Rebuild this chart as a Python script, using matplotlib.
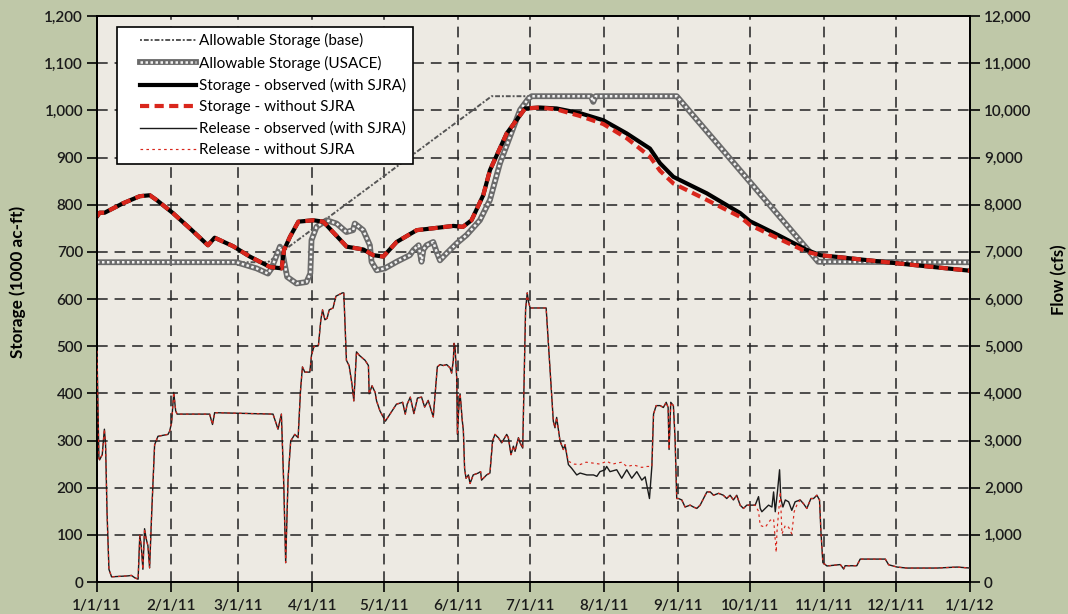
import numpy as np
import matplotlib
matplotlib.use('Agg')
import matplotlib.pyplot as plt
from matplotlib.legend_handler import HandlerLine2D, HandlerTuple

plt.rcParams['font.family'] = ['Lato', 'DejaVu Sans']

# Storage (1000 ac-ft), day offsets from 1/1/11
sto_day = [0, 1.1, 3.2, 10.9, 17.9, 22.1, 24.9, 31.8, 38.8, 46.4, 49.2, 56.9, 63.9,
           72.3, 77.2, 78.2, 80.7, 84.2, 90.4, 94.6, 104.4, 111.4, 115.5, 119.7,
           125.3, 133.7, 140.6, 149, 153, 156.6, 161.5, 164.3, 171.3, 179, 185.2,
           192.2, 202, 211.7, 221.5, 231.2, 235.4, 241, 255, 269, 273, 285, 296.8,
           302.4, 334, 365]
sto_obs = [775, 783, 783, 803, 818, 820, 810, 782, 750, 714, 730, 712, 690,
           668, 665, 704, 732, 764, 767, 764, 711, 705, 693, 690,
           721, 746, 750, 755, 753, 767, 820, 873, 951, 1004, 1006,
           1004, 994, 979, 951, 919, 888, 859, 824, 782, 765, 735, 704,
           693, 676, 660]
sto_wo = [775, 783, 783, 803, 818, 820, 810, 782, 750, 714, 730, 712, 690,
          668, 665, 704, 732, 764, 767, 764, 711, 705, 693, 690,
          721, 746, 750, 755, 753, 767, 820, 873, 951, 1004, 1006,
          1002, 988, 971, 941, 902, 872, 845, 810, 774, 757, 728, 700,
          693, 676, 660]

# Allowable storage
base_day = [0, 71.5, 165, 242.4, 301.5, 365]
base_val = [678, 678, 1030, 1030, 679, 678]

usace_day = [0, 58.3, 66.7, 71.5, 73, 76.5, 77.5, 79.5, 83.4, 87.6, 89.2, 89.7, 91.8,
             96, 100.2, 104.3, 107.1, 107.8, 111.3, 114.1, 114.8, 116.9, 120.4,
             125.3, 130.8, 132.3, 134.5, 135.7, 136.5, 137.8, 140.6, 142, 143.4,
             146.2, 150.4, 154.6, 160.1, 164.3, 168.5, 176.9, 180.4, 181.8, 206.5,
             207.5, 208.5, 242.4, 301.5, 365]
usace_val = [678, 678, 665, 654, 665, 711, 700, 647, 633, 636, 654, 725, 753,
             767, 760, 742, 746, 760, 746, 714, 679, 661, 665,
             679, 693, 704, 714, 679, 705, 714, 721, 700, 682,
             697, 718, 736, 767, 810, 888, 1001, 1025, 1030, 1030,
             1018, 1030, 1030, 679, 678]

# Release observed (cfs)
rel_day = [0, 0.3, 0.8, 1.1, 2.2, 3.1, 3.6, 4.2, 5.0, 6.1, 13.0, 14.4, 15.8, 17.2,
           17.9, 18.5, 19.2, 19.9, 20.6, 21.3, 22.0, 22.9, 24.1, 25.5, 29.7, 30.4,
           31.2, 32.1, 32.9, 33.5, 47.1, 48.3, 49.2, 73.6, 75.7, 77.1, 78.1, 78.9,
           79.9, 81.0, 82.7, 84.1, 85.1, 85.9, 86.9, 89.0, 89.7, 90.7, 92.6, 93.6,
           94.3, 95.3, 96.2, 97.1, 98.7, 99.9, 102.6, 103.2, 104.3, 105.4, 106.6,
           107.4, 108.5, 109.6, 112.1, 113.5, 113.8, 115.0, 116.3, 116.9, 118.3,
           120.6, 122.5, 125.2, 127.8, 128.9, 129.7, 131, 132.5, 134, 135.7, 137,
           138.5, 140.6, 142.3, 143.4, 144.8, 146.2, 147.6, 148.3, 149.0, 149.3,
           149.7, 150.4, 150.7, 151.2, 151.8, 152.2, 152.6, 153.2, 153.7, 154.3,
           155.3, 156.0, 157.3, 159.4, 160.4, 160.8, 162.9, 164.3, 165.4, 166.4,
           167.8, 169.2, 171.3, 172.0, 173.1, 174.1, 174.8, 176.2, 176.9, 178.0,
           178.5, 179.2, 179.9, 180.4, 181.1, 185.2, 187.8, 188.3, 189.4, 190.8,
           191.5, 192.2, 193.6, 195.0, 195.7, 197.1, 198.5, 200.6, 202.0, 204.8,
           207.6, 209.0, 210.3, 212.4, 213.1, 214.5, 217.3, 219.4, 221.5, 223.6,
           225.7, 227.8, 229.2, 231.0, 232.0, 232.7, 233.8, 235.5, 236.8, 238.0,
           238.8, 239.2, 239.9, 241.0, 241.7, 242.4, 243.1, 244.5, 245.9, 248.0,
           249.4, 250.8, 252.2, 253.6, 255.0, 256.4, 257.8, 259.9, 261.9, 263.3,
           264.7, 266.1, 267.5, 268.9, 270.3, 271.7, 273.8, 275.2, 276.6, 277.3,
           278.0, 279.4, 280.8, 282.2, 282.9, 283.6, 284.5, 285.4, 285.9, 286.8,
           287.8, 289.2, 290.5, 291.9, 294.0, 295.4, 296.8, 298.5, 299.6, 301.0,
           302.1, 302.7, 303.5, 305.2, 310.8, 312.2, 312.8, 317.7, 319.1, 329.6,
           331.0, 334.5, 338.6, 351.2, 359.6, 365]
rel_obs = [4900, 4050, 2630, 2590, 2700, 3240, 2910, 1490, 270, 110, 130, 140, 90, 60,
           990, 770, 270, 1130, 910, 770, 300, 1490, 2910, 3090, 3130, 3200,
           3380, 4020, 3630, 3560, 3560, 3340, 3590, 3560, 3240, 3560, 2060, 410,
           2200, 2990, 3130, 3060, 4060, 4560, 4450, 4450, 4810, 4990, 5020, 5560,
           5770, 5560, 5590, 5770, 5810, 6060, 6130, 6130, 4700, 4590, 4200,
           3840, 4880, 4810, 4700, 4590, 3990, 4160, 4020, 3840, 3630,
           3410, 3560, 3770, 3810, 3560, 3770, 3920, 3570, 3900, 3920, 3710,
           3850, 3500, 4560, 4610, 4590, 4610, 4540, 4430, 4700, 5060,
           4990, 4340, 3130, 3630, 3990, 3770, 3490, 3200, 2410, 2200,
           2270, 2090, 2270, 2310, 2340, 2160, 2270, 2310, 2990, 3130,
           3060, 2950, 3130, 3060, 2700, 2880, 2770, 3060, 2950, 2840,
           4020, 5770, 6130, 5950, 5810, 5810, 5810, 5410, 4560, 3410,
           3270, 3490, 2990, 2810, 2910, 2490, 2410, 2270, 2310, 2270,
           2270, 2240, 2340, 2380, 2450, 2340, 2380, 2200, 2380, 2200,
           2340, 2160, 2230, 1770, 2450, 3560, 3740, 3740, 3700, 3810,
           3700, 2810, 3810, 3740, 3050, 1770, 1770, 1740, 1590, 1630,
           1590, 1560, 1630, 1770, 1910, 1910, 1840, 1880, 1840, 1770,
           1840, 1740, 1840, 1630, 1560, 1630, 1630, 1630, 1810, 1560,
           1490, 1560, 1630, 1590, 1910, 1490, 1910, 2380, 1770, 1590,
           1740, 1700, 1520, 1700, 1740, 1660, 1560, 1770, 1770, 1840,
           1740, 1060, 410, 340, 370, 275, 345, 345, 486, 486,
           366, 317, 296, 296, 317, 296]

# Release without SJRA: differs from observed in Aug and Oct
wo_aug_day = [197.1, 199.5, 202.0, 204.5, 207.6, 210.3, 213.1, 215.5, 217.3, 219.4,
              221.5, 224.5, 227.8, 230.0, 232.0]
wo_aug = [2560, 2500, 2490, 2540, 2520, 2500, 2560, 2500, 2520, 2540,
          2450, 2480, 2430, 2450, 2450]
wo_oct_day = [276.6, 277.3, 279.4, 281.5, 282.9, 284.0, 284.3, 285.7, 286.4, 287.8,
              289.2, 290.5, 291.5, 292.6]
wo_oct = [1500, 1200, 1160, 1310, 1340, 630, 1060, 1910, 1020, 1200,
          1160, 1020, 1490, 1630]

month_day = [0, 31, 59, 90, 120, 151, 181, 212, 243, 273, 304, 334, 365]
month_lab = ['1/1/11', '2/1/11', '3/1/11', '4/1/11', '5/1/11', '6/1/11', '7/1/11',
             '8/1/11', '9/1/11', '10/1/11', '11/1/11', '12/1/11', '1/1/12']

# build "without" release series
rd = np.array(rel_day)
ro = np.array(rel_obs)
keep = ~(((rd > 196.5) & (rd < 232.5)) | ((rd > 276) & (rd < 293)))
wo_d = np.concatenate([rd[keep], wo_aug_day, wo_oct_day])
wo_v = np.concatenate([ro[keep], wo_aug, wo_oct])
order = np.argsort(wo_d)
wo_d, wo_v = wo_d[order], wo_v[order]

fig = plt.figure(figsize=(10.68, 6.14), dpi=100)
fig.patch.set_facecolor('#bfc8a8')
ax1 = fig.add_axes([0.0908, 0.0521, 0.8174, 0.9218])
ax1.set_facecolor('#edeae3')
ax2 = ax1.twinx()

red = '#d9261c'

# allowable storage
l_base, = ax1.plot(base_day, base_val, color='#555555', lw=1.4,
                   linestyle=(0, (1, 1, 2.5, 1)), zorder=3)
u1, = ax1.plot(usace_day, usace_val, color='#6a6a6a', lw=4.2, zorder=3,
               solid_joinstyle='round')
u2, = ax1.plot(usace_day, usace_val, color='#f2f2f2', lw=1.8, zorder=3,
               linestyle=(0, (1, 1)))
l_obs, = ax1.plot(sto_day, sto_obs, color='black', lw=3, zorder=4)
l_wo, = ax1.plot(sto_day, sto_wo, color=red, lw=3, zorder=5,
                 linestyle=(0, (2.2, 1.3)))

r_obs, = ax2.plot(rel_day, rel_obs, color='#1a1a1a', lw=1.0, zorder=3)
r_wo, = ax2.plot(wo_d, wo_v, color=red, lw=0.85, zorder=4,
                 linestyle=(0, (2.2, 2.8)))

ax1.set_xlim(0, 365)
ax1.set_ylim(0, 1200)
ax2.set_ylim(0, 12000)
ax1.set_xticks(month_day)
ax1.set_xticklabels(month_lab)
ax1.set_yticks(range(0, 1201, 100))
ax1.set_yticklabels([f'{v:,}' for v in range(0, 1201, 100)])
ax2.set_yticks(range(0, 12001, 1000))
ax2.set_yticklabels([f'{v:,}' for v in range(0, 12001, 1000)])

ax1.grid(True, color='#222222', lw=1.1, linestyle=(0, (7, 4.5)), zorder=1)
ax1.set_axisbelow(True)

for ax in (ax1, ax2):
    for s in ax.spines.values():
        s.set_color('black')
        s.set_linewidth(1.3)
    ax.tick_params(direction='out', length=7, width=1.2, labelsize=11,
                   colors='black', labelcolor='#1a1a1a')
    for t in ax.get_xticklabels() + ax.get_yticklabels():
        t.set_fontweight('semibold')
ax1.tick_params(axis='x', pad=5)
ax1.tick_params(axis='y', pad=3)
ax2.tick_params(axis='y', pad=3)

ax1.set_ylabel('Storage (1000 ac-ft)', fontsize=12.3, fontweight='bold')
ax1.yaxis.set_label_coords(-0.081, 0.53)
ax2.set_ylabel('Flow (cfs)', fontsize=12, fontweight='bold')
ax2.yaxis.set_label_coords(1.093, 0.535)

pad = 1.14
hmap = {l_base: HandlerLine2D(xpad=pad), l_obs: HandlerLine2D(xpad=pad),
        l_wo: HandlerLine2D(xpad=pad), r_obs: HandlerLine2D(xpad=pad),
        r_wo: HandlerLine2D(xpad=pad), tuple: HandlerTuple(ndivide=1, xpad=pad)}
leg = ax2.legend([l_base, (u1, u2), l_obs, l_wo, r_obs, r_wo],
                 ['Allowable Storage (base)', 'Allowable Storage (USACE)',
                  'Storage - observed (with SJRA)', 'Storage - without SJRA',
                  'Release - observed (with SJRA)', 'Release - without SJRA'],
                 handler_map=hmap,
                 loc='upper left', bbox_to_anchor=(0.0225, 0.981),
                 fontsize=11, handlelength=4.8, handletextpad=0.2,
                 labelspacing=0.48, borderpad=0.42, borderaxespad=0,
                 fancybox=False, framealpha=1, edgecolor='black')
leg.get_frame().set_linewidth(1.2)
leg.set_zorder(10)

plt.savefig('out.png', dpi=100, facecolor=fig.get_facecolor())
